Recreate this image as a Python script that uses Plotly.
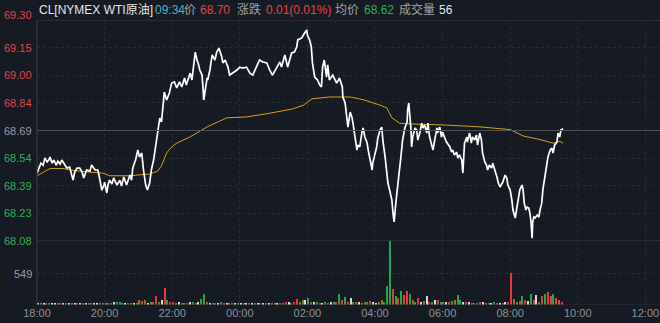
import pandas as pd
import plotly.graph_objects as go

# ---------------- data ----------------
# minutes since 18:00 and last price
price_minutes = [0,4,7,11,14,18,21,23,27,30,34,37,41,44,50,53,58,64,67,71,76,80,83,88,94,97,103,108,111,115,
    119,120,124,126,129,133,136,142,147,150,154,159,165,168,170,175,179,182,186,189,193,196,200,203,207,211,214,218,221,225,
    226,230,235,239,244,248,253,257,262,265,272,275,277,281,284,286,289,293,295,296,300,302,303,307,311,316,319,323,328,330,
    334,339,342,348,355,360,365,372,378,383,390,395,401,408,413,418,426,431,434,440,445,452,457,461,463,470,475,479,480,484,
    487,489,493,498,502,505,507,510,514,516,519,525,532,537,542,543,547,550,552,556,559,561,565,568,570,573,577,579,582,586,
    588,591,595,596,600,603,605,609,612,614,618,621,623,626,630,632,634,637,639,642,646,649,653,657,658,660,664,665,667,671,
    674,676,680,683,685,688,692,694,697,701,703,706,710,711,715,718,720,724,727,733,736,738,741,745,747,750,754,756,757,759,
    763,764,768,771,773,777,780,782,786,789,791,795,798,800,803,807,809,813,817,819,822,826,827,831,834,836,840,843,845,849,
    852,854,857,861,863,865,868,870,873,875,877,879,880,882,884,888,891,893,896,898,902,905,907,911,914,916,919,923,925,928,
    930,934]
price_values = [68.455,68.483,68.510,68.499,68.538,68.516,68.527,68.543,68.510,68.527,68.499,68.521,68.505,68.527,68.499,68.483,68.488,68.416,68.461,68.483,
    68.483,68.461,68.428,68.472,68.466,68.499,68.472,68.472,68.428,68.361,68.389,68.405,68.345,68.389,68.416,68.394,68.428,68.389,68.416,68.383,
    68.433,68.389,68.444,68.416,68.483,68.527,68.582,68.543,68.566,68.472,68.389,68.361,68.400,68.472,68.527,68.610,68.692,68.759,68.737,68.858,
    68.902,68.858,68.897,68.952,68.958,68.925,68.958,68.930,68.980,68.941,69.007,68.969,69.024,69.123,69.079,69.063,69.024,68.996,68.913,68.858,
    68.941,68.980,68.969,69.024,69.107,69.079,69.123,69.145,69.096,69.063,69.079,69.040,68.996,69.007,69.024,69.040,69.035,69.040,69.007,68.996,
    69.040,69.079,69.068,69.063,69.024,68.996,69.040,69.068,69.040,69.107,69.040,69.118,69.123,69.151,69.190,69.201,69.228,69.245,69.217,69.190,
    69.151,69.063,68.985,68.969,68.941,68.930,69.040,69.079,68.985,69.052,68.969,68.996,68.952,68.980,68.930,68.875,68.842,68.764,68.709,68.792,
    68.764,68.731,68.637,68.582,68.610,68.599,68.682,68.704,68.654,68.621,68.582,68.527,68.472,68.510,68.566,68.599,68.648,68.693,68.709,68.637,
    68.543,68.472,68.400,68.361,68.306,68.234,68.185,68.289,68.361,68.433,68.543,68.637,68.704,68.737,68.803,68.842,68.693,68.599,68.654,68.704,
    68.693,68.637,68.682,68.731,68.704,68.720,68.676,68.731,68.654,68.599,68.582,68.637,68.704,68.676,68.709,68.654,68.682,68.648,68.626,68.599,
    68.571,68.582,68.555,68.571,68.538,68.555,68.527,68.455,68.543,68.621,68.654,68.626,68.676,68.621,68.654,68.637,68.665,68.610,68.676,68.637,
    68.566,68.516,68.499,68.472,68.499,68.483,68.510,68.472,68.428,68.400,68.378,68.400,68.405,68.444,68.428,68.389,68.361,68.306,68.251,68.207,
    68.267,68.317,68.361,68.389,68.361,68.289,68.251,68.267,68.262,68.234,68.185,68.096,68.185,68.212,68.207,68.223,68.212,68.251,68.289,68.361,
    68.433,68.488,68.543,68.582,68.593,68.566,68.610,68.626,68.676,68.654,68.693,68.70]

avg_minutes = [0,23,46,64,94,117,129,165,182,200,214,221,230,239,248,272,302,337,372,413,455,473,488,520,556,579,609,621,630,644,
    674,727,786,840,863,893,916,928,934]
avg_values = [68.44,68.48,68.48,68.47,68.46,68.455,68.44,68.44,68.445,68.45,68.465,68.495,68.565,68.60,68.62,68.655,68.71,68.76,68.765,68.785,
    68.81,68.83,68.865,68.875,68.875,68.86,68.83,68.815,68.76,68.73,68.725,68.72,68.71,68.695,68.66,68.64,68.62,68.63,68.62]

# volume per 5-minute bin (from 18:00), one row per hour
volume = (
    [30,25,20,35,25,20,30,25,20,25,30,20] +          # 18:00
    [25,20,30,25,35,20,25,30,20,25,30,35] +          # 19:00
    [40,30,35,50,60,45,30,35,40,30,35,40] +          # 20:00
    [90,70,80,40,50,60,160,50,90,300,80,60] +        # 21:00
    [50,40,45,40,35,40,50,45,40,45,100,195] +        # 22:00
    [50,40,35,40,30,45,40,35,30,40,35,30] +          # 23:00
    [30,25,30,35,25,30,40,30,35,30,25,30] +          # 00:00
    [35,30,40,35,50,45,40,60,105,50,80,80] +         # 01:00
    [125,60,45,50,40,35,45,40,50,45,60,200] +        # 02:00
    [80,140,60,130,50,60,45,40,50,45,70,50] +        # 03:00
    [40,50,90,60,340,1130,290,160,120,250,180,250] + # 04:00
    [195,80,60,120,50,70,160,60,50,80,90,60] +       # 05:00
    [50,45,60,70,90,175,90,60,50,45,40,40] +         # 06:00
    [40,50,45,40,35,40,45,40,35,40,45,60] +          # 07:00
    [560,100,60,70,160,90,70,200,80,175,60,160] +    # 08:00
    [195,230,160,190,130,90,60]                      # 09:00
)
volume_dir = ("wgwrgwwgrwgw" "gwrwgwgrwwgr" "ggrwgggwrgwg" "ooowgrrgwrgr" "rgwrgrwgrwgg" "rwgrwgrwgrwg"
              "wgwrwgwrwgwr" "gwrgrwgrrgow" "grwgrwgrwgrg" "rgrwgrwgrgrw" "wgogggrgrgrr" "grgrwgwrgwrg"
              "gwrgoggwrwgr" "grwgrwgrwgwr" "rogrgrwgrwgr" "grrgror")

price_ticks = [69.30, 69.15, 69.00, 68.84, 68.69, 68.54, 68.39, 68.23, 68.08]
price_tick_pos = [69.30, 69.1475, 68.995, 68.8425, 68.69, 68.5375, 68.385, 68.2325, 68.08]
prev_close = 68.69
vol_tick = 549

header = [("CL[NYMEX WTI原油]", "#e6e6e6"), ("09:34", "#3db7c9"), ("价", "#a0a3a8"), ("68.70", "#e8434a"),
          ("涨跌", "#a0a3a8"), ("0.01(0.01%)", "#e8434a"), ("均价", "#a0a3a8"), ("68.62", "#2db45a"),
          ("成交量", "#a0a3a8"), ("56", "#e6e6e6")]
header_px = [37, 153, 182, 198, 235, 264, 333, 362, 397, 437]

# ---------------- figure ----------------
base = pd.Timestamp("2024-01-01 18:00")
t_price = [base + pd.Timedelta(minutes=m) for m in price_minutes]
t_avg = [base + pd.Timedelta(minutes=m) for m in avg_minutes]
t_vol = [base + pd.Timedelta(minutes=5 * i + 2) for i in range(len(volume))]
cmap = {"r": "#e8383d", "g": "#22a84a", "w": "#d8d8d8", "o": "#a8692c"}
vcolors = [cmap[c] for c in volume_dir]

BG = "#161a22"
GRID = "#272b34"
W, H = 660, 323
L, R, T, B = 37, 0, 20, 18
plot_h = H - T - B
split = (305 - 241) / plot_h

fig = go.Figure()
fig.add_trace(go.Scatter(x=t_avg, y=avg_values, mode="lines", line=dict(color="#d6a21e", width=1),
                         xaxis="x2", yaxis="y", hoverinfo="skip"))
fig.add_trace(go.Scatter(x=t_price, y=price_values, mode="lines", line=dict(color="#ffffff", width=1.7),
                         xaxis="x2", yaxis="y"))
fig.add_trace(go.Bar(x=t_vol, y=volume, marker=dict(color=vcolors, line=dict(width=0)),
                     width=150000, xaxis="x", yaxis="y2"))

x0 = base
x1 = base + pd.Timedelta(minutes=1106)
xcommon = dict(range=[x0, x1], type="date", showgrid=True, gridcolor=GRID, griddash="dot", gridwidth=1,
               dtick=7200000, tick0=base, zeroline=False, showline=False)

annotations = []
for txt, pos in zip(price_ticks, price_tick_pos):
    if abs(pos - prev_close) < 1e-6:
        col = "#9a9ca2"
    elif pos > prev_close:
        col = "#e0434b"
    else:
        col = "#2db45a"
    annotations.append(dict(x=0, xref="paper", y=pos, yref="y", text=f"{txt:.2f}", showarrow=False,
                            xanchor="right", xshift=-3, yanchor="middle", yshift=5 if txt == 69.30 else 0,
                            font=dict(size=11, color=col)))
annotations.append(dict(x=0, xref="paper", y=vol_tick, yref="y2", text=str(vol_tick), showarrow=False,
                        xanchor="right", xshift=-3, yanchor="middle", font=dict(size=11, color="#9a9ca2")))
for (txt, col), px in zip(header, header_px):
    annotations.append(dict(x=(px - L) / (W - L - R), xref="paper", y=(H - B - 10) / plot_h, yref="paper",
                            text=txt, showarrow=False, xanchor="left", yanchor="middle",
                            font=dict(size=12, color=col)))

shapes = []
for yv, col in [(69.30, "#3a3e47"), (prev_close, "#4c5059"), (68.08, "#3a3e47")]:
    shapes.append(dict(type="line", xref="paper", x0=0, x1=1, yref="y", y0=yv, y1=yv,
                       line=dict(color=col, width=1)))
shapes.append(dict(type="line", xref="paper", x0=0, x1=1, yref="y2", y0=0, y1=0,
                   line=dict(color="#2c3039", width=1)))
shapes.append(dict(type="line", xref="paper", x0=0, x1=0, yref="paper", y0=0, y1=1,
                   line=dict(color="#3a3e47", width=1)))

fig.update_layout(
    width=W, height=H, margin=dict(l=L, r=R, t=T, b=B),
    paper_bgcolor=BG, plot_bgcolor=BG, showlegend=False, bargap=0,
    font=dict(family="Arial, Liberation Sans, Noto Sans CJK SC, sans-serif", color="#9a9ca2", size=11),
    xaxis=dict(domain=[0, 1], anchor="y2", tickformat="%H:%M", showticklabels=True,
               tickfont=dict(size=11, color="#8e9197"), ticks="", **xcommon),
    xaxis2=dict(domain=[0, 1], anchor="y", matches="x", showticklabels=False, **xcommon),
    yaxis=dict(domain=[split, 1], anchor="x2", range=[68.08, 69.30], tickvals=price_tick_pos,
               showticklabels=False, showgrid=True, gridcolor=GRID, griddash="dot", zeroline=False),
    yaxis2=dict(domain=[0, split], anchor="x", range=[0, 1133], tickvals=[vol_tick], showticklabels=False,
                showgrid=True, gridcolor=GRID, griddash="dot", zeroline=False),
    annotations=annotations, shapes=shapes,
)

fig.write_html("out.html")
